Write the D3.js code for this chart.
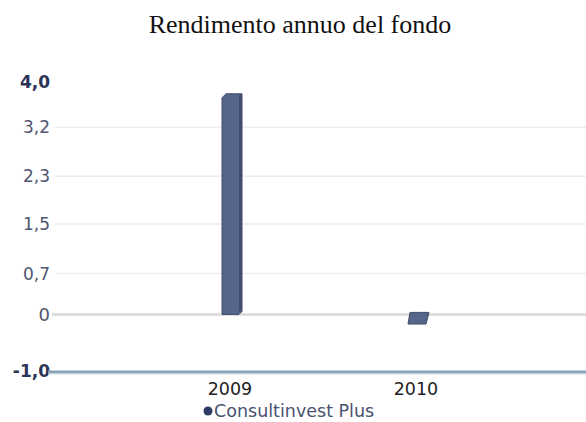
<!DOCTYPE html>
<html>
<head>
<meta charset="utf-8">
<script src="https://cdn.jsdelivr.net/npm/d3@7"></script>
<style>
  body { margin: 0; background: #fff; }
  svg { display: block; }
</style>
</head>
<body>
<div id="chart"></div>
<script>
// chart values
var years = ["2009", "2010"];
var returns = [3.83, -0.15];
var seriesName = "Consultinvest Plus";
var gridTicks = [0.71, 1.57, 2.4, 3.25];
var gridLabels = ["0,7", "1,5", "2,3", "3,2"];
var yMin = -1, yMax = 4;

var width = 586, height = 422;
var sans = "DejaVu Sans, Verdana, sans-serif";

var svg = d3.select("#chart").append("svg")
    .attr("width", width)
    .attr("height", height);

// title
svg.append("text")
    .attr("x", 300)
    .attr("y", 33)
    .attr("text-anchor", "middle")
    .attr("font-family", "Liberation Serif, Times New Roman, serif")
    .attr("font-size", 26)
    .attr("fill", "#111")
    .text("Rendimento annuo del fondo");

// scales
var y = d3.scaleLinear().domain([yMin, yMax]).range([372, 84]);
var x = d3.scaleBand().domain(years).range([139, 511]);

// grid lines
svg.append("g").selectAll("line")
    .data(gridTicks)
    .enter().append("line")
    .attr("x1", 55).attr("x2", width)
    .attr("y1", d => y(d)).attr("y2", d => y(d))
    .attr("stroke", "#ededed")
    .attr("stroke-width", 1.5);

// zero line
svg.append("line")
    .attr("x1", 52).attr("x2", width)
    .attr("y1", y(0)).attr("y2", y(0))
    .attr("stroke", "#dedede")
    .attr("stroke-width", 3);

// y labels
var lab = svg.append("g")
    .attr("font-family", sans)
    .attr("font-size", 17)
    .attr("text-anchor", "end");

lab.selectAll("text.grid")
    .data(gridTicks)
    .enter().append("text")
    .attr("class", "grid")
    .attr("x", 50)
    .attr("y", d => y(d) + 6)
    .attr("fill", "#505670")
    .text((d, i) => gridLabels[i]);

lab.append("text")
    .attr("x", 50).attr("y", y(0) + 7)
    .attr("fill", "#505670")
    .attr("font-size", 18)
    .text("0");

lab.append("text")
    .attr("x", 50).attr("y", y(yMax) + 4)
    .attr("fill", "#2c3458")
    .attr("font-weight", "bold")
    .text("4,0");

lab.append("text")
    .attr("x", 50).attr("y", y(yMin) + 5)
    .attr("fill", "#2c3458")
    .attr("font-weight", "bold")
    .text("-1,0");

// bottom axis line
svg.append("line")
    .attr("x1", 48).attr("x2", width)
    .attr("y1", y(yMin)).attr("y2", y(yMin))
    .attr("stroke", "#8aa2b8")
    .attr("stroke-width", 3);
svg.append("line")
    .attr("x1", 48).attr("x2", width)
    .attr("y1", y(yMin) + 2).attr("y2", y(yMin) + 2)
    .attr("stroke", "#c9d6e2")
    .attr("stroke-width", 1);

// bars
var bw = 20;
var bars = svg.append("g").selectAll("g")
    .data(years)
    .enter().append("g");

bars.append("path")
    .attr("d", function(d, i) {
        var cx = x(d) + x.bandwidth() / 2;
        var x0 = cx - bw / 2, x1 = cx + bw / 2;
        var v = returns[i];
        if (v >= 0) {
            var top = y(v), bot = y(0);
            return "M" + x0 + "," + (top + 4) + " L" + (x0 + 4) + "," + top +
                " L" + x1 + "," + top + " L" + x1 + "," + (bot - 3) +
                " L" + (x1 - 3) + "," + bot + " L" + x0 + "," + bot + " Z";
        } else {
            var t = y(0) - 2, b = y(v) + 1;
            return "M" + (x0 + 2) + "," + t + " L" + (x1 + 1) + "," + t +
                " L" + (x1 - 2) + "," + b + " L" + x0 + "," + b + " Z";
        }
    })
    .attr("fill", "#56658a")
    .attr("stroke", "#3f4b6a")
    .attr("stroke-width", 1);

// right shade on positive bars
bars.filter((d, i) => returns[i] >= 0)
    .append("rect")
    .attr("x", d => x(d) + x.bandwidth() / 2 + bw / 2 - 3)
    .attr("y", d => y(returns[years.indexOf(d)]) + 1)
    .attr("width", 2.5)
    .attr("height", d => y(0) - y(returns[years.indexOf(d)]) - 4)
    .attr("fill", "#3f4b6a");

// x labels
svg.append("g").selectAll("text")
    .data(years)
    .enter().append("text")
    .attr("x", d => x(d) + x.bandwidth() / 2 - 2)
    .attr("y", 395)
    .attr("text-anchor", "middle")
    .attr("font-family", sans)
    .attr("font-size", 17.5)
    .attr("fill", "#222")
    .text(d => d);

// legend
svg.append("circle")
    .attr("cx", 208).attr("cy", 411)
    .attr("r", 4.5)
    .attr("fill", "#2e3a66");
svg.append("text")
    .attr("x", 214).attr("y", 417)
    .attr("font-family", sans)
    .attr("font-size", 17.5)
    .attr("fill", "#4a5270")
    .text(seriesName);
</script>
</body>
</html>
